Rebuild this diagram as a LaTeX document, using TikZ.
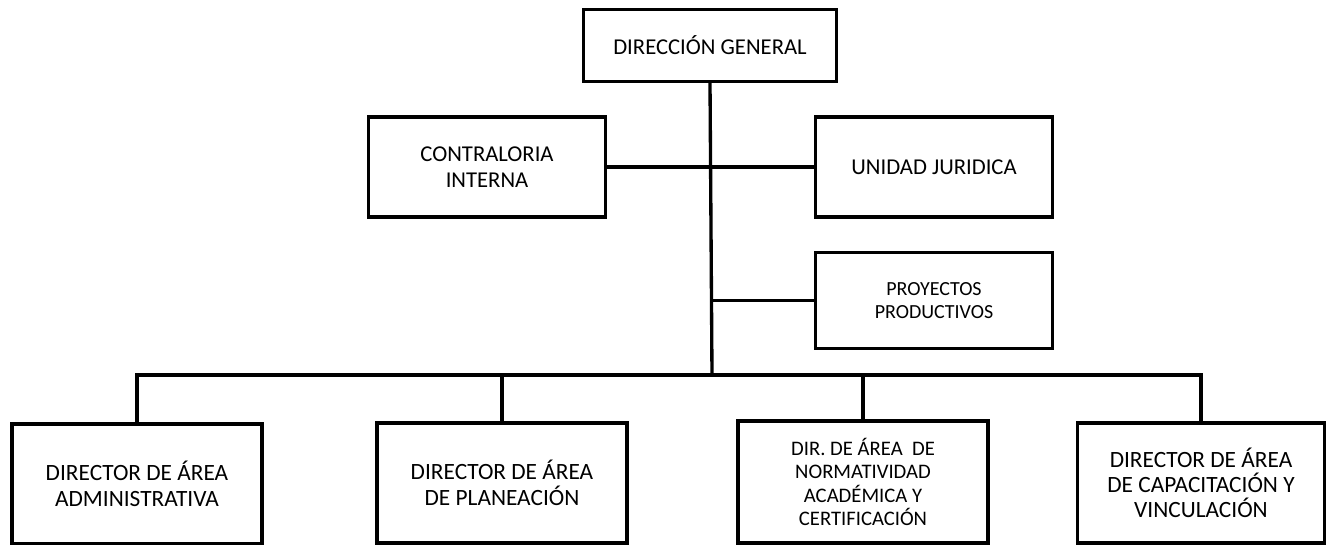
\documentclass[tikz,border=0pt]{standalone}
\usepackage{fontspec}
\setmainfont{Carlito}
\begin{document}
\begin{tikzpicture}[x=0.75pt,y=-0.75pt,line width=2.5pt,
  caja/.style={draw,line width=2.5pt,align=center,inner sep=2pt,
    font=\fontsize{17}{20}\selectfont},
  cajab/.style={caja,minimum width=187.5pt,minimum height=90pt,
    font=\fontsize{17.5}{19}\selectfont}]
\useasboundingbox (0,0) rectangle (1327,545);
%\draw[step=50,lightgray,very thin] (0,0) grid (1327,545);

\node[caja,minimum width=190pt,minimum height=54pt] (gen) at (710,45.5) {DIRECCIÓN GENERAL};
\node[caja,minimum width=178pt,minimum height=75pt] (contra) at (487,167) {CONTRALORIA\\INTERNA};
\node[caja,minimum width=178pt,minimum height=75pt] (unidad) at (934,167) {UNIDAD JURIDICA};
\node[caja,minimum width=178pt,minimum height=72pt,font=\fontsize{15}{17.5}\selectfont] (proy) at (934,300.5) {PROYECTOS\\PRODUCTIVOS};

\node[cajab] (dir1) at (137,484) {DIRECTOR DE ÁREA\\ADMINISTRATIVA};
\node[cajab] (dir2) at (502,483) {DIRECTOR DE ÁREA\\DE PLANEACIÓN};
\node[cajab,minimum height=91.5pt,font=\fontsize{15.5}{17.5}\selectfont] (dir3) at (863,482) {DIR. DE ÁREA~ DE\\NORMATIVIDAD\\ACADÉMICA Y\\CERTIFICACIÓN};
\node[cajab,minimum width=185pt] (dir4) at (1201,483) {DIRECTOR DE ÁREA\\DE CAPACITACIÓN Y\\VINCULACIÓN};

\coordinate (bus) at (712,375);

\draw (gen.south) -- (bus);
\draw (contra.east) -- (unidad.west);
\draw (proy.west) -- (proy.west -| bus);

\draw (dir1.north) |- (bus) -| (dir4.north);
\draw (dir2.north) -- (dir2.north |- bus);
\draw (dir3.north) -- (dir3.north |- bus);

\end{tikzpicture}
\end{document}
